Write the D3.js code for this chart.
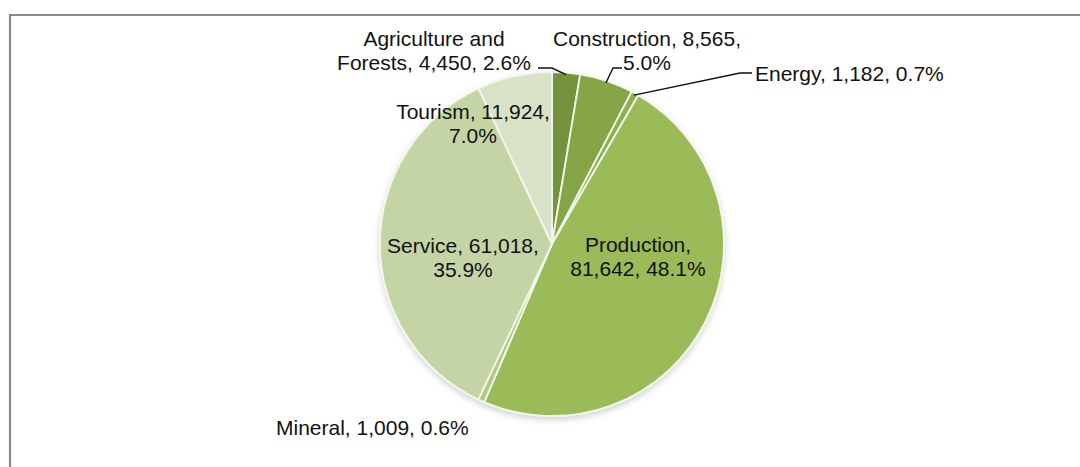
<!DOCTYPE html>
<html>
<head>
<meta charset="utf-8">
<script src="https://cdn.jsdelivr.net/npm/d3@7/dist/d3.min.js"></script>
<style>
  html, body { margin: 0; padding: 0; background: #fff; }
  svg { display: block; }
  text { font-family: "Liberation Sans", Arial, sans-serif; fill: #111; }
</style>
</head>
<body>
<svg id="chart" width="1080" height="467"></svg>
<script>
// Employment by sector
const sectors = ["Agriculture and Forests", "Construction", "Energy", "Production", "Mineral", "Service", "Tourism"];
const values = [4450, 8565, 1182, 81642, 1009, 61018, 11924];
const percents = ["2.6%", "5.0%", "0.7%", "48.1%", "0.6%", "35.9%", "7.0%"];
const colors = ["#77923d", "#86a547", "#8fae50", "#9bbb59", "#b3c983", "#c4d4a5", "#d8e2c6"];

const svg = d3.select("#chart");
const W = 1080, H = 467;
const cx = 552, cy = 244, R = 172;

// Frame (top and left edges visible)
svg.append("path")
  .attr("d", `M10,${H} V15 H${W}`)
  .attr("fill", "none")
  .attr("stroke", "#8a8a8a")
  .attr("stroke-width", 2.2);

const defs = svg.append("defs");
const f = defs.append("filter").attr("id", "shadow")
  .attr("x", "-10%").attr("y", "-10%").attr("width", "120%").attr("height", "125%");
f.append("feDropShadow").attr("dx", 0).attr("dy", 3).attr("stdDeviation", 3)
  .attr("flood-color", "#000").attr("flood-opacity", 0.18);

const fmt = d3.format(",");
const data = sectors.map((s, i) => ({ name: s, value: values[i], pct: percents[i], color: colors[i] }));

const pie = d3.pie().sort(null).value(d => d.value);
const arcs = pie(data);
const arc = d3.arc().innerRadius(0).outerRadius(R);

const g = svg.append("g").attr("transform", `translate(${cx},${cy})`);
g.append("g").attr("filter", "url(#shadow)")
  .selectAll("path")
  .data(arcs)
  .join("path")
  .attr("d", arc)
  .attr("fill", d => d.data.color)
  .attr("stroke", "#f3f7ea")
  .attr("stroke-width", 1.8)
  .attr("stroke-linejoin", "round");

// Point on the rim at the middle of a slice
function rimPoint(a, r) {
  const m = (a.startAngle + a.endAngle) / 2;
  return [cx + r * Math.sin(m), cy - r * Math.cos(m)];
}

// Label layout: lines of text, anchor, and position, plus optional leader elbow
const layout = {
  "Agriculture and Forests": { lines: ["Agriculture and", `Forests, ${fmt(values[0])}, ${percents[0]}`], x: 434, y: 38, anchor: "middle", leader: [[538, 68], [552, 68]] },
  "Construction": { lines: [`Construction, ${fmt(values[1])},`, percents[1]], x: 647, y: 38, anchor: "middle", leader: [[622, 68], [613, 68]] },
  "Energy": { lines: [`Energy, ${fmt(values[2])}, ${percents[2]}`], x: 755, y: 73, anchor: "start", leader: [[752, 73], [740, 73]] },
  "Production": { lines: ["Production,", `${fmt(values[3])}, ${percents[3]}`], x: 638, y: 244, anchor: "middle" },
  "Mineral": { lines: [`Mineral, ${fmt(values[4])}, ${percents[4]}`], x: 276, y: 427, anchor: "start" },
  "Service": { lines: [`Service, ${fmt(values[5])},`, percents[5]], x: 463, y: 245, anchor: "middle" },
  "Tourism": { lines: [`Tourism, ${fmt(values[6])},`, percents[6]], x: 473, y: 111, anchor: "middle" }
};

const lineH = 24;
arcs.forEach(a => {
  const L = layout[a.data.name];
  if (L.leader) {
    const pts = L.leader.concat([rimPoint(a, R - 2)]);
    svg.append("path")
      .attr("d", d3.line()(pts))
      .attr("fill", "none")
      .attr("stroke", "#111")
      .attr("stroke-width", 1.4);
  }
  const t = svg.append("text")
    .attr("text-anchor", L.anchor)
    .attr("font-size", 21);
  L.lines.forEach((ln, i) => {
    t.append("tspan")
      .attr("x", L.x)
      .attr("y", L.y + i * lineH)
      .attr("dominant-baseline", "central")
      .text(ln);
  });
});
</script>
</body>
</html>
